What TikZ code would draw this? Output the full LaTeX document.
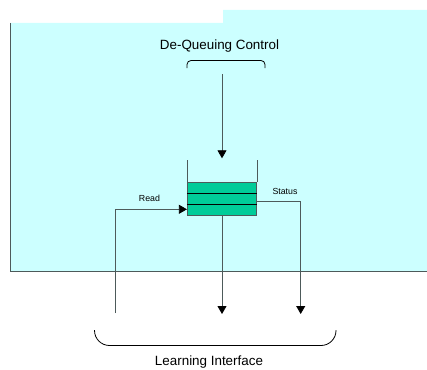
\documentclass[tikz,border=0pt]{standalone}
\usepackage{fontspec}
\setmainfont{Liberation Sans}
\usepackage{xcolor}
\usepackage{tikz}
\usetikzlibrary{arrows.meta,positioning}

\definecolor{panelcyan}{HTML}{CCFFFF}
\definecolor{queuegreen}{HTML}{00CC99}
\definecolor{wiregray}{HTML}{4D5A5A}

\begin{document}
\begin{tikzpicture}[
    x=1pt, y=-1pt,
    title/.style={font=\fontsize{13.4}{16}\selectfont, inner sep=0pt, anchor=base},
    tag/.style={font=\fontsize{8.8}{10}\selectfont, inner sep=0pt, anchor=base},
    buffer/.style={rectangle, draw=wiregray, fill=queuegreen, line width=0.8pt, minimum width=69.4pt, minimum height=33.4pt, inner sep=0pt},
    wire/.style={draw=wiregray, line width=0.8pt},
    flow/.style={wire, -{Triangle[length=8pt, width=9pt, color=black]}},
    slot/.style={draw=black, line width=1.6pt},
    brace/.style={draw=black, line width=0.8pt}
]
    \useasboundingbox (0,0) rectangle (427,369);

    % panel behind the queue
    \fill[panelcyan] (10,23) -- (223,23) -- (223,10) -- (427,10) -- (427,271.5) -- (10,271.5) -- cycle;
    \draw[wire] (10,23) -- (10,271.5) -- (427,271.5);

    % de-queuing control
    \node (ctrl) [title] at (219.5,49) {De-Queuing Control};
    \draw[brace, rounded corners=4pt] (187,68) -- (187,60.5) -- (265,60.5) -- (265,68);
    \coordinate (ctrlout) at (222,74);

    % the queue
    \node (queue) [buffer] at (222,199) {};
    \draw[slot] (queue.west |- 0,193.3) -- (queue.east |- 0,193.3);
    \draw[slot] (queue.west |- 0,204.5) -- (queue.east |- 0,204.5);
    \draw[wire] (queue.north west) -- ++(0,-22);
    \draw[wire] (queue.north east) -- ++(0,-22);
    \coordinate (qin) at (222,158.3);
    \draw[flow] (ctrlout) -- (qin);

    % read / status
    \coordinate (readsrc) at (115.7,313);
    \coordinate (statdst) at (300.7,314);
    \coordinate (outdst) at (222,314);
    \node (readlbl) [tag] at (149.5,201) {Read};
    \node (statlbl) [tag] at (285,194.3) {Status};
    \draw[flow] (readsrc) |- ([yshift=-10.3pt]queue.west);
    \draw[flow] ([yshift=-2pt]queue.east) -| (statdst);
    \draw[flow] (queue.south) -- (outdst);

    % learning interface
    \draw[brace, rounded corners=15pt] (94.5,330) -- (94.5,345.5) -- (336,345.5) -- (336,330);
    \node (learn) [title] at (209,365.5) {Learning Interface};
\end{tikzpicture}
\end{document}
